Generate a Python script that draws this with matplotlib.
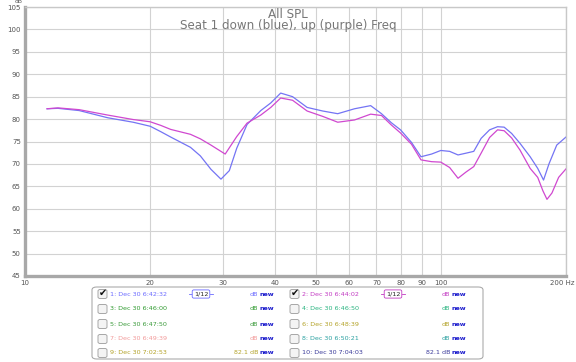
import matplotlib
matplotlib.use("Agg")
import matplotlib.pyplot as plt
from matplotlib.patches import FancyBboxPatch
from matplotlib.transforms import ScaledTranslation

# ---- data ----
freq_blue = [11.3, 12.0, 13.5, 15.8, 18.2, 20.0, 21.2, 22.4, 25.0, 26.4, 28.0, 29.6, 31.0, 32.3,
             34.2, 36.9, 39.0, 41.2, 44.0, 47.7, 52.0, 56.5, 62.0, 67.8, 72.0, 76.0, 80.0, 85.0,
             89.6, 95.0, 100.0, 105.0, 110.0, 115.0, 120.0, 125.0, 131.0, 136.9, 142.0, 148.0,
             155.0, 164.0, 171.0, 176.6, 182.0, 190.0, 200.0]
db_blue = [82.3, 82.4, 81.9, 80.3, 79.3, 78.4, 77.2, 76.0, 73.7, 71.8, 68.8, 66.6, 68.5, 73.5,
           78.8, 81.9, 83.6, 85.8, 85.0, 82.6, 81.8, 81.2, 82.3, 83.0, 81.2, 79.2, 77.6, 74.8,
           71.6, 72.2, 73.0, 72.8, 72.0, 72.4, 72.8, 75.7, 77.6, 78.3, 78.2, 76.8,
           74.6, 71.6, 69.0, 66.4, 70.0, 74.2, 76.0]

freq_purple = [11.3, 12.0, 13.5, 15.8, 18.2, 20.0, 21.2, 22.4, 25.0, 26.4, 28.0, 30.3, 32.3,
               34.2, 36.9, 39.0, 41.2, 44.0, 47.7, 52.0, 56.5, 62.0, 67.8, 72.0, 76.0, 80.0,
               85.0, 89.6, 95.0, 100.0, 105.0, 110.0, 115.0, 120.0, 125.0, 131.0, 136.9, 142.0,
               148.0, 155.0, 164.0, 171.0, 176.0, 180.0, 185.0, 192.0, 200.0]
db_purple = [82.3, 82.5, 82.1, 80.9, 79.9, 79.4, 78.6, 77.7, 76.6, 75.6, 74.2, 72.2, 76.1,
             79.1, 80.9, 82.6, 84.7, 84.2, 81.8, 80.6, 79.3, 79.8, 81.1, 80.8, 78.7, 76.9,
             74.4, 70.9, 70.5, 70.4, 69.2, 66.8, 68.2, 69.4, 72.4, 75.9, 77.6, 77.4,
             75.8, 73.1, 69.0, 67.0, 64.0, 62.1, 63.5, 67.0, 68.9]

y_ticks = [45, 50, 55, 60, 65, 70, 75, 80, 85, 90, 95, 100, 105]
x_ticks = [10, 20, 30, 40, 50, 60, 70, 80, 90, 100, 200]
x_tick_labels = ["10", "20", "30", "40", "50", "60", "70", "80", "90", "100", "200 Hz"]

title_lines = ["All SPL", "Seat 1 down (blue), up (purple) Freq"]

legend_names = ["1: Dec 30 6:42:32", "2: Dec 30 6:44:02", "3: Dec 30 6:46:00", "4: Dec 30 6:46:50",
                "5: Dec 30 6:47:50", "6: Dec 30 6:48:39", "7: Dec 30 6:49:39", "8: Dec 30 6:50:21",
                "9: Dec 30 7:02:53", "10: Dec 30 7:04:03"]
legend_checked = [True, True, False, False, False, False, False, False, False, False]
legend_levels = ["", "", "", "", "", "", "", "", "82.1 ", "82.1 "]
legend_colors = ["#6b6bff", "#c23ac2", "#2e9a2e", "#27b37f", "#3a9a3a", "#b3a227",
                 "#f29a9a", "#2aa0a0", "#b3a227", "#3a3a9a"]

BLUE = "#7474f4"
PURPLE = "#d048d0"
W, H = 576, 362

fig = plt.figure(figsize=(5.76, 3.62), dpi=100)
fig.patch.set_facecolor("white")

def fx(px):
    return px / W

def fy(py):
    return 1 - py / H

ax = fig.add_axes([fx(25), fy(276), fx(566) - fx(25), fy(7) - fy(276)])
ax.set_xscale("log")
ax.set_xlim(10, 200)
ax.set_ylim(45, 105)

ax.plot(freq_blue, db_blue, color=BLUE, lw=0.9, solid_joinstyle="round")
ax.plot(freq_purple, db_purple, color=PURPLE, lw=0.9, solid_joinstyle="round")

ax.set_yticks(y_ticks)
ax.set_yticklabels([str(v) for v in y_ticks])
ax.set_xticks(x_ticks)
ax.set_xticklabels(x_tick_labels)
ax.xaxis.set_minor_locator(matplotlib.ticker.NullLocator())
ax.grid(True, color="#d2d2d2", lw=0.8)
ax.set_axisbelow(True)
ax.tick_params(length=0, labelsize=5, colors="#555555", pad=3)
last = ax.get_xticklabels()[-1]
last.set_transform(last.get_transform() + ScaledTranslation(-0.035, 0, fig.dpi_scale_trans))
for side in ["top", "right"]:
    ax.spines[side].set_color("#c8c8c8")
    ax.spines[side].set_linewidth(1.0)
for side in ["left", "bottom"]:
    ax.spines[side].set_color("#a8a8a8")
    ax.spines[side].set_linewidth(2.4)

fig.text(fx(19), fy(1.8), "dB", fontsize=4.3, color="#555555", ha="center", va="center")

fig.text(fx(288), fy(14), title_lines[0], ha="center", va="center",
         fontsize=8.6, color="#777777")
fig.text(fx(288), fy(26), title_lines[1], ha="center", va="center",
         fontsize=8.6, color="#777777")

# ---- legend panel ----
box = FancyBboxPatch((fx(92), fy(359)), fx(483) - fx(92), fy(287) - fy(359),
                     boxstyle="round,pad=0,rounding_size=0.008", transform=fig.transFigure,
                     facecolor="white", edgecolor="#a0a0a0", lw=0.7)
fig.patches.append(box)

row_y = [294, 309, 324, 339, 353]
col_x = [97, 289]
for i, name in enumerate(legend_names):
    col = i % 2
    row = i // 2
    cx = col_x[col]
    cy = row_y[row]
    color = legend_colors[i]
    cb = FancyBboxPatch((fx(cx + 1), fy(cy + 4.5)), fx(9), fy(cy - 4.5) - fy(cy + 4.5),
                        boxstyle="round,pad=0,rounding_size=0.004", transform=fig.transFigure,
                        facecolor="#f4f4f4", edgecolor="#9a9a9a", lw=0.6)
    fig.patches.append(cb)
    if legend_checked[i]:
        fig.text(fx(cx + 6), fy(cy - 1), "✔", fontsize=7, color="#111111",
                 ha="center", va="center")
    fig.text(fx(cx + 13), fy(cy), name, fontsize=4.6, color=color, ha="left", va="center")
    if legend_checked[i]:
        fig.text(fx(cx + 104), fy(cy), "1/12", fontsize=4.6, color="#222222",
                 ha="center", va="center",
                 bbox=dict(boxstyle="round,pad=0.25", facecolor="white", edgecolor=color, lw=0.6))
        fig.lines.append(plt.Line2D([fx(cx + 92), fx(cx + 95)], [fy(cy), fy(cy)],
                                    transform=fig.transFigure, color=color, lw=0.6))
        fig.lines.append(plt.Line2D([fx(cx + 113), fx(cx + 116)], [fy(cy), fy(cy)],
                                    transform=fig.transFigure, color=color, lw=0.6))
    fig.text(fx(cx + 161), fy(cy), legend_levels[i] + "dB", fontsize=4.6, color=color,
             ha="right", va="center")
    fig.text(fx(cx + 162), fy(cy), "new", fontsize=4.6, color="#1a1acc", ha="left",
             va="center", fontweight="bold")

fig.savefig("out.png", dpi=100)
